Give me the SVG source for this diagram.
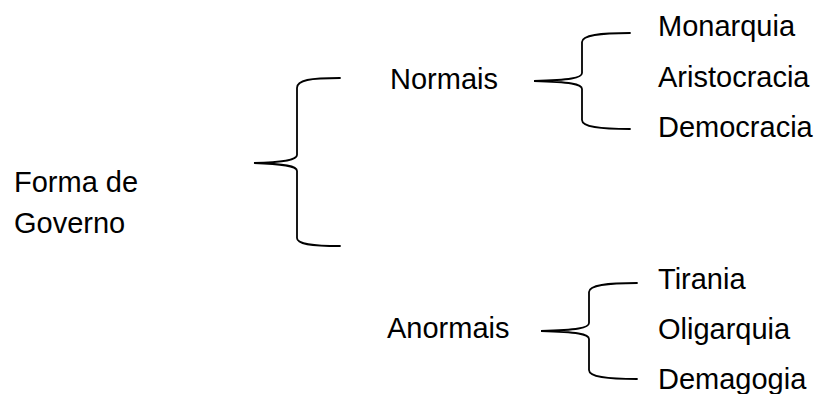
<svg xmlns="http://www.w3.org/2000/svg" width="815" height="394" viewBox="0 0 815 394">
  <style>
    .lbl { font-family: "Liberation Sans", Arial, sans-serif; font-size: 29px; fill: #000; }
    .brace { fill: none; stroke: #000; stroke-width: 1.8; stroke-linecap: round; }
  </style>
  <rect width="815" height="394" fill="#fff"/>

  <g id="connectors">
    <!-- root brace -->
    <path class="brace" d="M340,78 C310,78 297,80 297,88 L297,155 C297,160 285,162 254,163 C285,164 297,166 297,171 L297,238 C297,244 310,246 340,246"/>
    <!-- Normais brace -->
    <path class="brace" d="M630,33 C600,33 582,35 582,42 L582,73 C582,78 570,80 534,81 C570,82 582,84 582,89 L582,120 C582,127 600,129 630,129"/>
    <!-- Anormais brace -->
    <path class="brace" d="M637,283 C607,283 589,285 589,292 L589,323 C589,328 577,330 541,331 C577,332 589,334 589,339 L589,370 C589,377 607,379 637,379"/>
  </g>

  <g id="root">
    <text class="lbl" x="14" y="192">Forma de</text>
    <text class="lbl" x="14" y="233">Governo</text>
  </g>
  <g id="normais"><text class="lbl" x="390" y="89">Normais</text></g>
  <g id="anormais"><text class="lbl" x="387" y="338">Anormais</text></g>
  <g id="monarquia"><text class="lbl" x="658" y="36">Monarquia</text></g>
  <g id="aristocracia"><text class="lbl" x="658" y="87">Aristocracia</text></g>
  <g id="democracia"><text class="lbl" x="658" y="137">Democracia</text></g>
  <g id="tirania"><text class="lbl" x="658" y="289">Tirania</text></g>
  <g id="oligarquia"><text class="lbl" x="658" y="339">Oligarquia</text></g>
  <g id="demagogia"><text class="lbl" x="658" y="389">Demagogia</text></g>
</svg>
